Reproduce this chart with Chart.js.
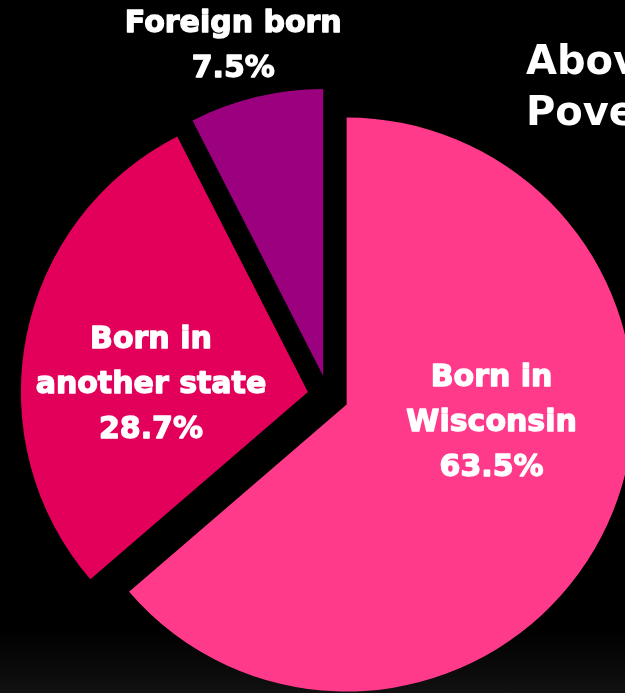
<!DOCTYPE html>
<html>
<head>
<meta charset="utf-8">
<title>Place of birth</title>
<script src="https://cdn.jsdelivr.net/npm/chart.js@4.4.1/dist/chart.umd.min.js"></script>
<style>
  html, body { margin: 0; padding: 0; }
  body {
    width: 625px;
    height: 693px;
    overflow: hidden;
    background: linear-gradient(to bottom, #000 0px, #000 630px, #111 693px);
  }
  #wrap { position: relative; width: 625px; height: 693px; }
</style>
</head>
<body>
<div id="wrap"><canvas id="birthChart"></canvas></div>
<script>
// data
const categories = ["Born in Wisconsin", "Born in another state", "Foreign born"];
const labelLines = [["Born in", "Wisconsin"], ["Born in", "another state"], ["Foreign born"]];
const shares = [63.5, 28.7, 7.5];
const titleLines = ["Above", "Poverty"];

// every slice is pulled out from the centre by the same distance,
// without growing its radius (chart.js' own offset does that)
const EXPLODE = 20.5;
const baseArcDraw = Chart.ArcElement.prototype.draw;
Chart.ArcElement.prototype.draw = function (ctx) {
	const mid = (this.startAngle + this.endAngle) / 2;
	ctx.save();
	ctx.translate(Math.cos(mid) * EXPLODE, Math.sin(mid) * EXPLODE);
	baseArcDraw.call(this, ctx);
	ctx.restore();
};

const sliceLabels = {
	id: "sliceLabels",
	afterDatasetsDraw(chart) {
		const ctx = chart.ctx;
		const arcs = chart.getDatasetMeta(0).data;
		// where each label block sits, from the pie centre: [angle in deg, share of radius]
		const spots = [[12.1, 0.583], [181.1, 0.617], [-105.5, 1.235]];
		ctx.save();
		ctx.fillStyle = "#fff";
		ctx.strokeStyle = "#fff";
		ctx.lineWidth = 1.3;
		ctx.lineJoin = "round";
		ctx.font = 'bold 30px "DejaVu Sans"';
		ctx.textAlign = "center";
		ctx.textBaseline = "alphabetic";
		arcs.forEach((arc, i) => {
			const a = spots[i][0] * Math.PI / 180;
			const d = spots[i][1] * arc.outerRadius;
			const x = arc.x + Math.cos(a) * d;
			const y = arc.y + Math.sin(a) * d;
			const lines = labelLines[i].concat(shares[i].toFixed(1) + "%");
			lines.forEach((t, j) => {
				const ly = y + (j - (lines.length - 1) / 2) * 45;
				// heavier look, closer to the black face in the original
				ctx.strokeText(t, x, ly);
				ctx.fillText(t, x, ly);
			});
		});
		// title runs off the right edge
		ctx.font = 'bold 40px "DejaVu Sans"';
		ctx.textAlign = "left";
		titleLines.forEach((t, j) => ctx.fillText(t, 526, 74 + j * 51));
		ctx.restore();
	}
};

new Chart(document.getElementById("birthChart"), {
	type: "pie",
	data: {
		labels: categories,
		datasets: [
			{
				data: shares,
				backgroundColor: ["#ff3a8a", "#e3005b", "#9b007f"],
				borderWidth: 0,
				radius: 287,
			},
		],
	},
	options: {
		responsive: true,
		maintainAspectRatio: false,
		animation: false,
		layout: { padding: { left: 31, right: 0, top: 99, bottom: 0 } },
		plugins: {
			legend: { display: false },
			tooltip: { enabled: false },
		},
	},
	plugins: [sliceLabels],
});
</script>
</body>
</html>
